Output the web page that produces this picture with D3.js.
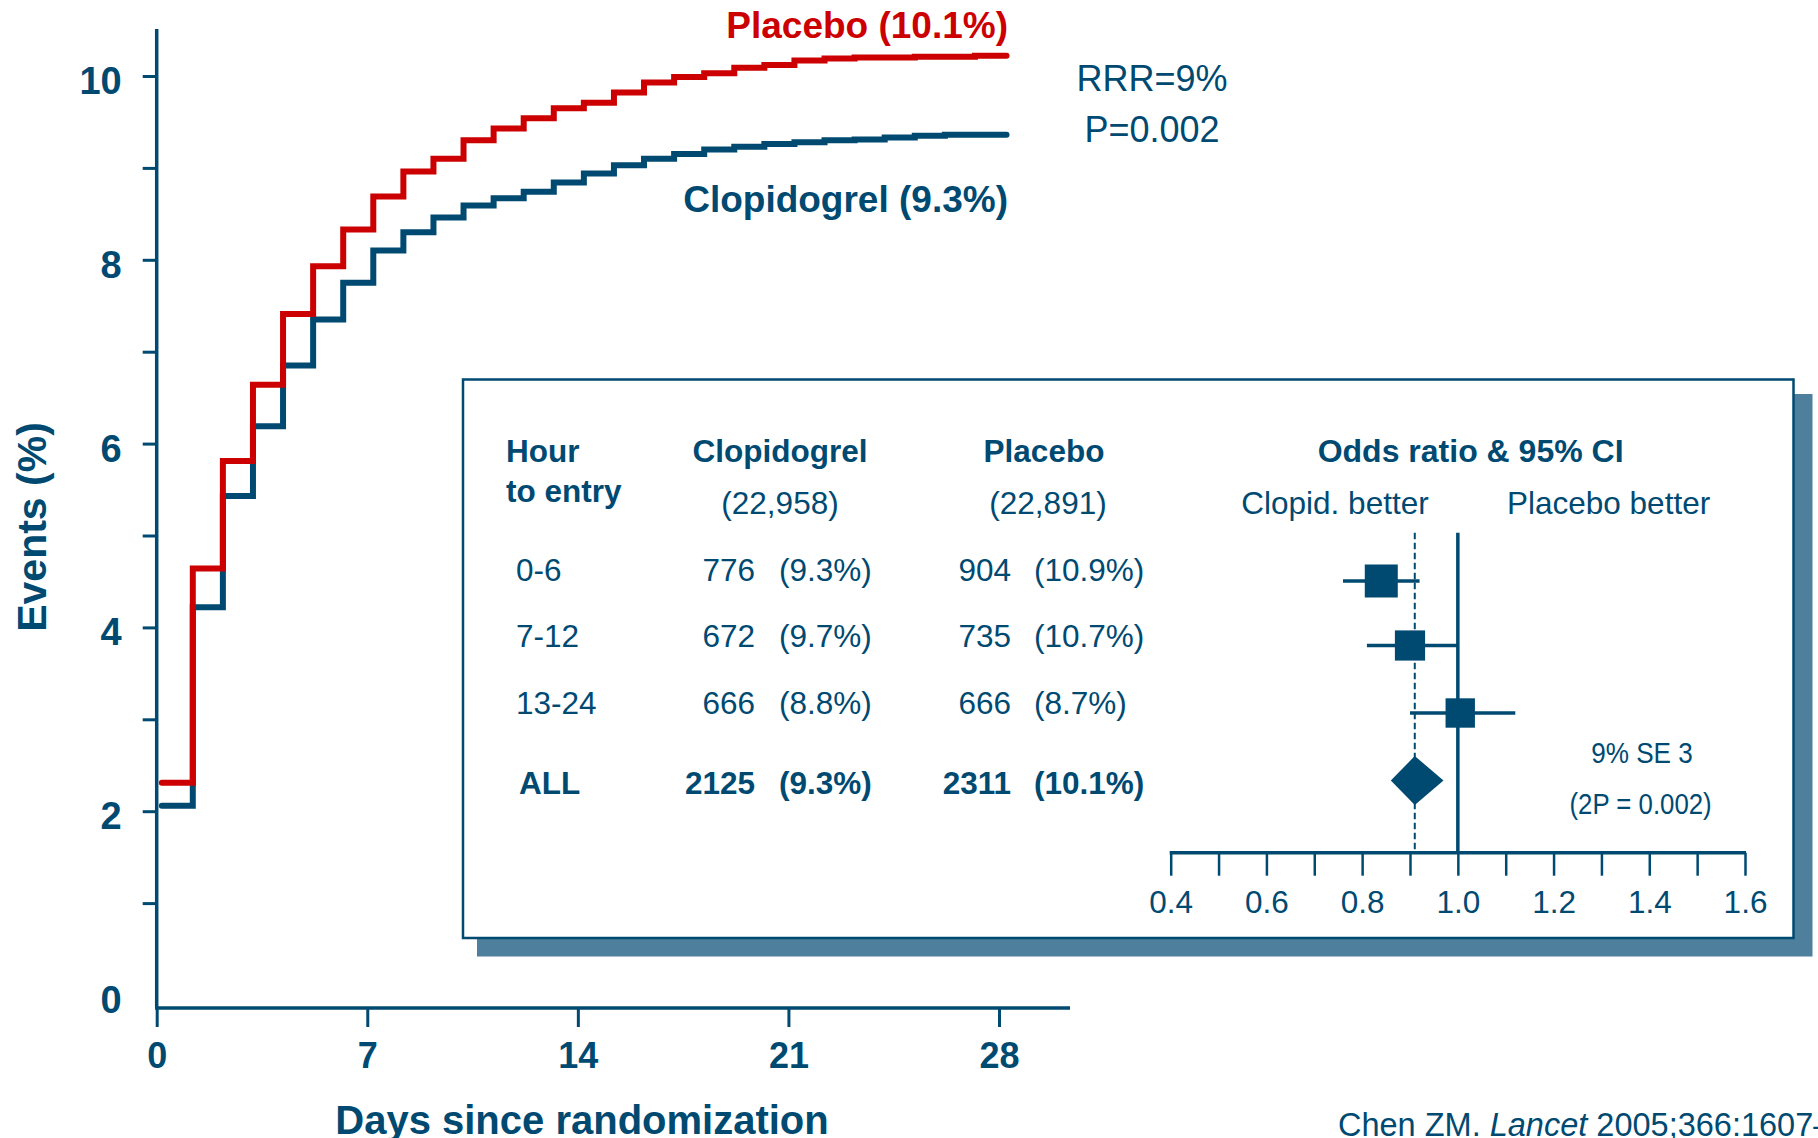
<!DOCTYPE html>
<html>
<head>
<meta charset="utf-8">
<script src="https://cdn.jsdelivr.net/npm/d3@7"></script>
<style>
  html, body { margin: 0; padding: 0; background: #fff; }
  svg { display: block; }
  text { font-family: "Liberation Sans", Arial, sans-serif; fill: #004a72; }
</style>
</head>
<body>
<div id="chart"></div>
<script>
// cumulative event curves (step days and event %)
const stepDays = [0.17, 1.2, 2.2, 3.2, 4.2, 5.2, 6.2, 7.2, 8.2, 9.2, 10.2, 11.2, 12.2, 13.2,
	14.2, 15.2, 16.2, 17.2, 18.2, 19.2, 20.2, 21.2, 22.2, 23.2, 24.2, 25.2, 26.2, 27.2, 28.25];
const placeboEvents = [2.31, 4.64, 5.81, 6.64, 7.41, 7.93, 8.33, 8.69, 8.96, 9.10, 9.30, 9.43, 9.54, 9.65,
	9.71, 9.82, 9.93, 9.99, 10.03, 10.09, 10.12, 10.17, 10.19, 10.20, 10.20, 10.21, 10.21, 10.22];
const clopidogrelEvents = [2.06, 4.22, 5.43, 6.19, 6.85, 7.35, 7.75, 8.10, 8.30, 8.46, 8.59, 8.67, 8.74, 8.84,
	8.94, 9.03, 9.10, 9.15, 9.20, 9.23, 9.26, 9.28, 9.30, 9.31, 9.33, 9.35, 9.36, 9.36];
const dayTicks = [0, 7, 14, 21, 28];
const eventTicks = [0, 1, 2, 3, 4, 5, 6, 7, 8, 9, 10];

// subgroup table
const hourGroups = ['0-6', '7-12', '13-24', 'ALL'];
const clopN = 22958, placN = 22891;
const clopCount = [776, 672, 666, 2125];
const clopPct = [9.3, 9.7, 8.8, 9.3];
const placCount = [904, 735, 666, 2311];
const placPct = [10.9, 10.7, 8.7, 10.1];
const oddsRatio = [0.84, 0.90, 1.005, 0.91];
const ciLow = [0.76, 0.81, 0.90, 0.86];
const ciHigh = [0.92, 1.00, 1.12, 0.97];
const orTicks = [0.4, 0.5, 0.6, 0.7, 0.8, 0.9, 1.0, 1.1, 1.2, 1.3, 1.4, 1.5, 1.6];

const blue = '#004a72', red = '#cc0000';
const W = 1818, H = 1138;

const svg = d3.select('#chart').append('svg')
	.attr('width', W)
	.attr('height', H);

const x = d3.scaleLinear().domain([0, 28]).range([156.7, 999]);
const y = d3.scaleLinear().domain([0, 10]).range([995, 76]);

// inset box (drawn first, curves stay above it)
svg.append('rect')
	.attr('x', 477).attr('y', 394)
	.attr('width', 1335.5).attr('height', 562.5)
	.attr('fill', '#4e809e');
svg.append('rect')
	.attr('x', 463).attr('y', 379.5)
	.attr('width', 1330.5).attr('height', 558.5)
	.attr('fill', '#fff')
	.attr('stroke', blue)
	.attr('stroke-width', 2.5);

// axes
const yAxis = svg.append('g')
	.attr('transform', 'translate(156.7,0)')
	.call(d3.axisLeft(y).tickValues(eventTicks).tickSize(14).tickFormat(d => d % 2 === 0 ? d : ''));
yAxis.select('.domain').remove();
yAxis.selectAll('.tick line').attr('stroke', blue).attr('stroke-width', 3)
	.filter(d => d === 0).remove();
yAxis.selectAll('.tick text')
	.attr('x', -35).attr('dy', '0.46em')
	.style('font-size', '38px').style('font-weight', 'bold')
	.style('fill', blue).attr('fill', blue);

svg.append('line')
	.attr('x1', 156.7).attr('x2', 156.7)
	.attr('y1', 29).attr('y2', 1008)
	.attr('stroke', blue).attr('stroke-width', 3.5);

const xAxis = svg.append('g')
	.attr('transform', 'translate(0,1008)')
	.call(d3.axisBottom(x).tickValues(dayTicks).tickSize(19));
xAxis.select('.domain').remove();
xAxis.selectAll('.tick line').attr('stroke', blue).attr('stroke-width', 3);
xAxis.selectAll('.tick text')
	.attr('y', 60).attr('dy', null)
	.style('font-size', '36px').style('font-weight', 'bold')
	.style('fill', blue).attr('fill', blue);

svg.append('line')
	.attr('x1', 155).attr('x2', 1070)
	.attr('y1', 1008).attr('y2', 1008)
	.attr('stroke', blue).attr('stroke-width', 3.5);

svg.append('text')
	.attr('x', 582).attr('y', 1134)
	.attr('text-anchor', 'middle')
	.style('font-size', '40px').style('font-weight', 'bold')
	.text('Days since randomization');

svg.append('text')
	.attr('transform', 'translate(46,527) rotate(-90)')
	.attr('text-anchor', 'middle')
	.style('font-size', '41px').style('font-weight', 'bold')
	.text('Events (%)');

// step curves
const line = d3.line()
	.x(d => x(d[0]))
	.y(d => y(d[1]))
	.curve(d3.curveStepAfter);

function curvePoints(vals) {
	return stepDays.map((d, i) => [d, vals[Math.min(i, vals.length - 1)]]);
}

[[clopidogrelEvents, blue], [placeboEvents, red]].forEach(([vals, col]) => {
	svg.append('path')
		.attr('d', line(curvePoints(vals)))
		.attr('fill', 'none')
		.attr('stroke', col)
		.attr('stroke-width', 6)
		.attr('stroke-linecap', 'round')
		.attr('stroke-linejoin', 'miter');
});

svg.append('text')
	.attr('x', 1008).attr('y', 37.5)
	.attr('text-anchor', 'end')
	.style('font-size', '37px').style('font-weight', 'bold')
	.style('fill', red)
	.text('Placebo (10.1%)');
svg.append('text')
	.attr('x', 1008).attr('y', 211.5)
	.attr('text-anchor', 'end')
	.style('font-size', '37px').style('font-weight', 'bold')
	.text('Clopidogrel (9.3%)');
svg.append('text')
	.attr('x', 1152).attr('y', 90.5)
	.attr('text-anchor', 'middle')
	.style('font-size', '36px')
	.text('RRR=9%');
svg.append('text')
	.attr('x', 1152).attr('y', 141.5)
	.attr('text-anchor', 'middle')
	.style('font-size', '36px')
	.text('P=0.002');

// table
const fmt = d3.format(',');
const rowY = d3.scaleOrdinal().domain(hourGroups).range([581, 647, 714, 794]);
const tab = svg.append('g').style('font-size', '31.5px');

function txt(g, xp, yp, s, anchor, bold) {
	return g.append('text')
		.attr('x', xp).attr('y', yp)
		.attr('text-anchor', anchor || 'start')
		.style('font-weight', bold ? 'bold' : null)
		.text(s);
}

txt(tab, 506, 461.7, 'Hour', 'start', true);
txt(tab, 506, 501.7, 'to entry', 'start', true);
txt(tab, 780, 461.7, 'Clopidogrel', 'middle', true);
txt(tab, 780, 513.5, '(' + fmt(clopN) + ')', 'middle');
txt(tab, 1044, 461.7, 'Placebo', 'middle', true);
txt(tab, 1048, 513.5, '(' + fmt(placN) + ')', 'middle');

hourGroups.forEach((g, i) => {
	const bold = g === 'ALL';
	const yy = rowY(g);
	txt(tab, bold ? 519 : 516, yy, g, 'start', bold);
	txt(tab, 755, yy, clopCount[i], 'end', bold);
	txt(tab, 779, yy, '(' + clopPct[i].toFixed(1) + '%)', 'start', bold);
	txt(tab, 1011, yy, placCount[i], 'end', bold);
	txt(tab, 1034, yy, '(' + placPct[i].toFixed(1) + '%)', 'start', bold);
});

// forest plot
const orX = d3.scaleLinear().domain([0.4, 1.6]).range([1170.7, 1745]);
const forestY = d3.scaleOrdinal().domain(hourGroups).range([581, 645.5, 713, 780.5]);
const total = hourGroups.map((g, i) => clopCount[i] + placCount[i]);
const boxSize = d3.scaleSqrt().domain([0, d3.max(total.slice(0, 3))]).range([0, 33]);
const axisY = 852.7, topY = 532.7;

txt(svg, 1470.6, 461.8, 'Odds ratio & 95% CI', 'middle', true).style('font-size', '32px');
txt(svg, 1335, 513.5, 'Clopid. better', 'middle').style('font-size', '31.5px');
txt(svg, 1608.6, 513.5, 'Placebo better', 'middle').style('font-size', '31.5px');

const fAxis = svg.append('g')
	.attr('transform', `translate(0,${axisY})`)
	.call(d3.axisBottom(orX).tickValues(orTicks).tickSize(23)
		.tickFormat(d => Math.round(d * 10) % 2 === 0 ? d3.format('.1f')(d) : ''));
fAxis.select('.domain').remove();
fAxis.selectAll('.tick line').attr('stroke', blue).attr('stroke-width', 2.5);
fAxis.selectAll('.tick text')
	.attr('y', 60).attr('dy', null)
	.style('font-size', '31.5px').style('fill', blue).attr('fill', blue);
svg.append('line')
	.attr('x1', orX(0.4) - 1).attr('x2', orX(1.6) + 1)
	.attr('y1', axisY).attr('y2', axisY)
	.attr('stroke', blue).attr('stroke-width', 3.5);

svg.append('line')
	.attr('x1', orX(1)).attr('x2', orX(1))
	.attr('y1', topY).attr('y2', axisY)
	.attr('stroke', blue).attr('stroke-width', 3.5);
svg.append('line')
	.attr('x1', orX(oddsRatio[3])).attr('x2', orX(oddsRatio[3]))
	.attr('y1', topY).attr('y2', axisY)
	.attr('stroke', blue).attr('stroke-width', 2)
	.attr('stroke-dasharray', '6.5,3.5');

hourGroups.slice(0, 3).forEach((g, i) => {
	const yy = forestY(g);
	svg.append('line')
		.attr('x1', orX(ciLow[i])).attr('x2', orX(ciHigh[i]))
		.attr('y1', yy).attr('y2', yy)
		.attr('stroke', blue).attr('stroke-width', 3.5);
	const s = boxSize(total[i]);
	svg.append('rect')
		.attr('x', orX(oddsRatio[i]) - s / 2).attr('y', yy - s / 2)
		.attr('width', s).attr('height', s)
		.attr('fill', blue);
});

const dy0 = forestY('ALL');
svg.append('path')
	.attr('d', `M${orX(ciLow[3])},${dy0} L${orX(oddsRatio[3])},${dy0 - 24.5} L${orX(ciHigh[3])},${dy0} L${orX(oddsRatio[3])},${dy0 + 24.5} Z`)
	.attr('fill', blue);

svg.append('text')
	.attr('transform', 'translate(1642,763) scale(0.87,1)')
	.attr('text-anchor', 'middle')
	.style('font-size', '30px')
	.text('9% SE 3');
svg.append('text')
	.attr('transform', 'translate(1640.6,814) scale(0.86,1)')
	.attr('text-anchor', 'middle')
	.style('font-size', '30px')
	.text('(2P = 0.002)');

// citation (runs off the right edge, as on the slide)
const cite = svg.append('text')
	.attr('x', 1338).attr('y', 1136)
	.style('font-size', '32.5px');
cite.append('tspan').text('Chen ZM. ');
cite.append('tspan').style('font-style', 'italic').text('Lancet');
cite.append('tspan').text(' 2005;366:1607–21');
</script>
</body>
</html>
